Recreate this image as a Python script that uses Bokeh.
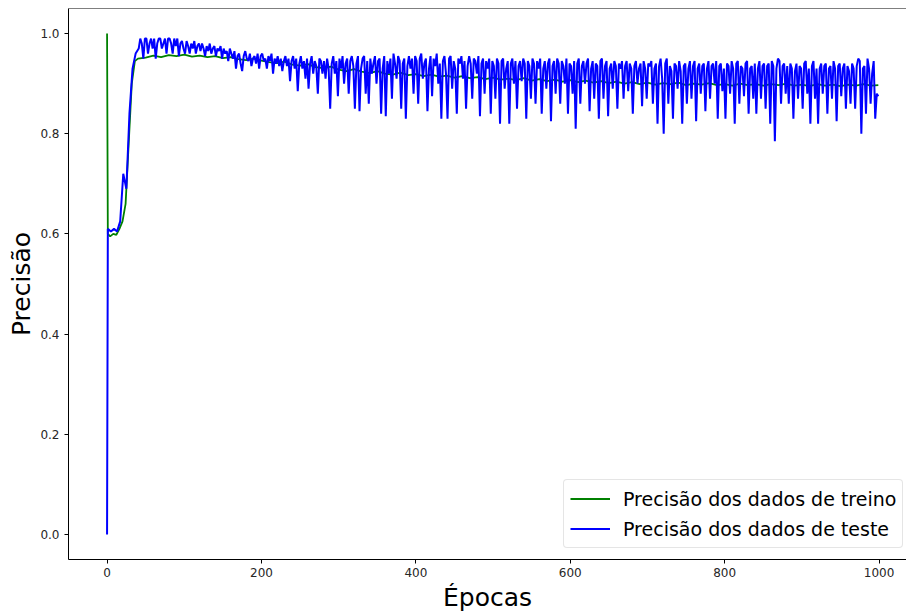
from bokeh.plotting import figure
from bokeh.models import Range1d, Span, Legend, LegendItem, FixedTicker
from bokeh.embed import file_html
from bokeh.resources import INLINE

# ---- training accuracy (green) ----
train_epochs = [0, 1, 4, 8, 12, 16, 20, 24, 28, 32, 36, 40] + list(range(50, 1000, 10)) + [999]
train_acc = [
    1.0, 0.60, 0.595, 0.60, 0.598, 0.61, 0.625, 0.66, 0.78, 0.90, 0.945, 0.950,
    0.952, 0.956, 0.953, 0.957, 0.955, 0.958, 0.954, 0.956, 0.953, 0.955,
    0.951, 0.953, 0.949, 0.947, 0.950, 0.946, 0.943, 0.941, 0.944, 0.938,
    0.936, 0.939, 0.933, 0.931, 0.934, 0.928, 0.925, 0.929, 0.924, 0.921,
    0.925, 0.920, 0.918, 0.922, 0.917, 0.919, 0.915, 0.918, 0.914, 0.916,
    0.912, 0.915, 0.911, 0.913, 0.909, 0.912, 0.908, 0.910, 0.907, 0.911,
    0.906, 0.909, 0.905, 0.908, 0.904, 0.907, 0.903, 0.906, 0.902, 0.905,
    0.901, 0.904, 0.900, 0.903, 0.899, 0.902, 0.898, 0.901, 0.899, 0.902,
    0.897, 0.900, 0.898, 0.901, 0.897, 0.899, 0.896, 0.900, 0.897, 0.899,
    0.896, 0.899, 0.897, 0.900, 0.896, 0.898, 0.895, 0.899, 0.896, 0.898,
    0.895, 0.898, 0.896, 0.899, 0.896,
    0.897,
]

# ---- test accuracy (blue) ----
# first epochs every 4, then every 2 epochs from 41 on
test_epochs = [0] + list(range(1, 41, 4)) + list(range(41, 1000, 2))
test_acc = [
    0.0,
    # 1 .. 37
    0.61, 0.605, 0.61, 0.605, 0.625, 0.72, 0.69, 0.84, 0.93, 0.96,
    # 41 .. 79
    0.97, 0.99, 0.98, 0.95, 0.99, 0.99, 0.96, 0.98, 0.99, 0.97,
    0.99, 0.95, 0.98, 0.99, 0.99, 0.97, 0.98, 0.99, 0.96, 0.99,
    # 81 .. 119
    0.99, 0.98, 0.96, 0.99, 0.975, 0.99, 0.955, 0.98, 0.985, 0.97,
    0.96, 0.985, 0.975, 0.96, 0.98, 0.97, 0.985, 0.96, 0.975, 0.98,
    # 121 .. 159
    0.965, 0.98, 0.97, 0.955, 0.975, 0.965, 0.98, 0.96, 0.97, 0.975,
    0.955, 0.97, 0.965, 0.975, 0.95, 0.97, 0.96, 0.965, 0.945, 0.97,
    # 161 .. 199
    0.96, 0.95, 0.965, 0.93, 0.955, 0.96, 0.94, 0.925, 0.955, 0.965,
    0.95, 0.945, 0.96, 0.935, 0.95, 0.955, 0.94, 0.96, 0.93, 0.955,
    # 201 .. 239
    0.96, 0.945, 0.95, 0.93, 0.955, 0.945, 0.96, 0.92, 0.95, 0.94,
    0.955, 0.935, 0.95, 0.925, 0.945, 0.955, 0.935, 0.95, 0.905, 0.945,
    # 241 .. 279
    0.955, 0.93, 0.95, 0.885, 0.94, 0.955, 0.93, 0.945, 0.91, 0.95,
    0.89, 0.94, 0.955, 0.92, 0.945, 0.935, 0.88, 0.95, 0.945, 0.92,
    # 281 .. 319
    0.945, 0.91, 0.95, 0.93, 0.85, 0.94, 0.955, 0.92, 0.945, 0.875,
    0.95, 0.93, 0.955, 0.90, 0.94, 0.95, 0.88, 0.945, 0.955, 0.935,
    # 321 .. 359
    0.85, 0.94, 0.955, 0.845, 0.93, 0.95, 0.955, 0.88, 0.945, 0.86,
    0.95, 0.92, 0.94, 0.955, 0.90, 0.945, 0.95, 0.84, 0.93, 0.955,
    # 361 .. 399
    0.835, 0.945, 0.92, 0.95, 0.87, 0.96, 0.94, 0.91, 0.955, 0.945,
    0.85, 0.94, 0.95, 0.83, 0.935, 0.955, 0.93, 0.95, 0.88, 0.955,
    # 401 .. 439
    0.945, 0.86, 0.95, 0.96, 0.91, 0.94, 0.95, 0.845, 0.93, 0.955,
    0.875, 0.95, 0.935, 0.96, 0.90, 0.94, 0.83, 0.945, 0.955, 0.92,
    # 441 .. 479
    0.83, 0.95, 0.955, 0.89, 0.945, 0.93, 0.84, 0.95, 0.94, 0.955,
    0.91, 0.945, 0.85, 0.935, 0.955, 0.94, 0.87, 0.95, 0.945, 0.92,
    # 481 .. 519
    0.955, 0.835, 0.94, 0.95, 0.88, 0.945, 0.93, 0.95, 0.84, 0.945,
    0.935, 0.87, 0.95, 0.94, 0.82, 0.945, 0.95, 0.89, 0.93, 0.945,
    # 521 .. 559
    0.82, 0.94, 0.95, 0.90, 0.945, 0.85, 0.935, 0.945, 0.905, 0.95,
    0.94, 0.83, 0.945, 0.935, 0.87, 0.95, 0.94, 0.86, 0.945, 0.93,
    # 561 .. 599
    0.95, 0.84, 0.93, 0.945, 0.89, 0.94, 0.95, 0.825, 0.935, 0.945,
    0.88, 0.95, 0.94, 0.86, 0.945, 0.935, 0.90, 0.95, 0.84, 0.94,
    # 601 .. 639
    0.935, 0.88, 0.945, 0.81, 0.94, 0.95, 0.86, 0.935, 0.945, 0.90,
    0.94, 0.95, 0.845, 0.93, 0.945, 0.87, 0.94, 0.935, 0.83, 0.945,
    # 641 .. 679
    0.95, 0.87, 0.935, 0.945, 0.835, 0.93, 0.94, 0.89, 0.945, 0.935,
    0.85, 0.94, 0.93, 0.945, 0.87, 0.935, 0.945, 0.885, 0.94, 0.93,
    # 681 .. 719
    0.84, 0.935, 0.945, 0.90, 0.93, 0.94, 0.855, 0.945, 0.93, 0.87,
    0.94, 0.935, 0.945, 0.86, 0.93, 0.94, 0.82, 0.935, 0.95, 0.91,
    # 721 .. 759
    0.80, 0.94, 0.95, 0.86, 0.935, 0.925, 0.83, 0.94, 0.935, 0.89,
    0.945, 0.925, 0.82, 0.935, 0.94, 0.86, 0.93, 0.945, 0.87, 0.935,
    # 761 .. 799
    0.945, 0.825, 0.93, 0.94, 0.88, 0.935, 0.94, 0.845, 0.93, 0.945,
    0.87, 0.935, 0.94, 0.90, 0.945, 0.83, 0.935, 0.94, 0.885, 0.93,
    # 801 .. 839
    0.83, 0.94, 0.935, 0.88, 0.945, 0.93, 0.82, 0.94, 0.945, 0.86,
    0.935, 0.93, 0.875, 0.94, 0.945, 0.84, 0.93, 0.935, 0.87, 0.94,
    # 841 .. 879
    0.84, 0.93, 0.945, 0.87, 0.935, 0.94, 0.85, 0.935, 0.94, 0.82,
    0.945, 0.935, 0.785, 0.93, 0.95, 0.945, 0.86, 0.935, 0.94, 0.88,
    # 881 .. 919
    0.935, 0.86, 0.94, 0.93, 0.83, 0.925, 0.94, 0.87, 0.935, 0.93,
    0.85, 0.94, 0.945, 0.88, 0.93, 0.82, 0.935, 0.945, 0.87, 0.93,
    # 921 .. 959
    0.82, 0.93, 0.94, 0.88, 0.935, 0.94, 0.84, 0.93, 0.935, 0.87,
    0.945, 0.93, 0.825, 0.935, 0.94, 0.875, 0.93, 0.94, 0.85, 0.935,
    # 961 .. 999
    0.925, 0.86, 0.94, 0.93, 0.85, 0.935, 0.95, 0.945, 0.80, 0.93,
    0.935, 0.84, 0.95, 0.93, 0.86, 0.92, 0.945, 0.83, 0.88, 0.875,
]

assert len(train_epochs) == len(train_acc)
assert len(test_epochs) == len(test_acc)

x_ticks = [0, 200, 400, 600, 800, 1000]
y_ticks = [0.0, 0.2, 0.4, 0.6, 0.8, 1.0]
y_tick_labels = {0.0: "0.0", 0.2: "0.2", 0.4: "0.4", 0.6: "0.6", 0.8: "0.8", 1.0: "1.0"}

FONT = "DejaVu Sans"

p = figure(
    width=906, height=614,
    output_backend="svg", toolbar_location=None,
    x_range=Range1d(-49.95, 1035.5), y_range=Range1d(-0.05, 1.05),
    min_border_left=68, min_border_right=0, min_border_top=8, min_border_bottom=55,
    background_fill_color="white", border_fill_color="white",
)
p.outline_line_color = None
p.xgrid.visible = False
p.ygrid.visible = False

# top border of the frame
p.add_layout(Span(location=1.05, dimension="width", line_color="black", line_width=1))

for ax in (p.xaxis[0], p.yaxis[0]):
    ax.axis_line_color = "black"
    ax.axis_line_width = 1
    ax.major_tick_line_color = "black"
    ax.major_tick_out = 4
    ax.major_tick_in = 0
    ax.minor_tick_line_color = None
    ax.major_label_text_font = FONT
    ax.major_label_text_font_size = "12px"
    ax.major_label_text_color = "#262626"
    ax.axis_label_text_font = FONT
    ax.axis_label_text_font_size = "25px"
    ax.axis_label_text_font_style = "normal"
    ax.axis_label_text_color = "black"

p.xaxis.ticker = FixedTicker(ticks=x_ticks)
p.yaxis.ticker = FixedTicker(ticks=y_ticks)
p.yaxis.major_label_overrides = y_tick_labels
p.xaxis.axis_label = "Épocas"
p.yaxis.axis_label = "Precisão"
p.xaxis.major_label_standoff = 4
p.yaxis.major_label_standoff = 5
p.xaxis.axis_label_standoff = 3
p.yaxis.axis_label_standoff = 1

r_train = p.line(train_epochs, train_acc, line_color="green", line_width=1.8)
r_test = p.line(test_epochs, test_acc, line_color="blue", line_width=2.0)

legend = Legend(
    items=[
        LegendItem(label="Precisão dos dados de treino", renderers=[r_train]),
        LegendItem(label="Precisão dos dados de teste", renderers=[r_test]),
    ],
    location=(495, 11),
    label_text_font=FONT,
    label_text_font_size="19px",
    label_text_color="black",
    glyph_width=40,
    glyph_height=25,
    label_height=25,
    label_standoff=13,
    spacing=5,
    padding=6,
    margin=0,
    border_line_color="#cccccc",
    border_line_width=1,
    border_radius=4,
    background_fill_color="white",
    background_fill_alpha=0.8,
)
p.add_layout(legend)

open("out.html", "w").write(file_html(p, INLINE))
